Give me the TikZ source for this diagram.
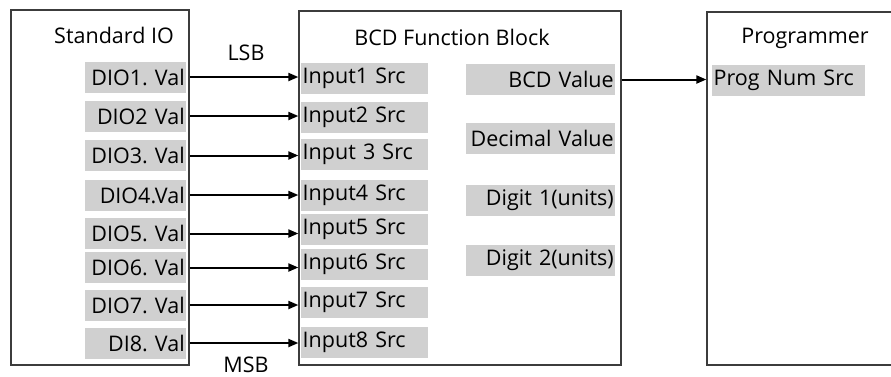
\documentclass[tikz,border=0pt]{standalone}
\usepackage{fontspec}
\setmainfont{Open Sans}
\frenchspacing
\usetikzlibrary{arrows.meta,calc}
\definecolor{gfill}{RGB}{208,208,208}
\definecolor{edge}{RGB}{60,60,60}
\tikzset{
  panel/.style={draw=edge, line width=1.3pt, fill=none, inner sep=0pt},
  gbox/.style={fill=gfill, minimum height=31pt, inner sep=0pt, anchor=west, font=\fontsize{21.5}{24}\selectfont},
  lcol/.style={gbox, text width=98pt, align=right, minimum width=101pt},
  icol/.style={gbox, text width=124pt, align=left, minimum width=127pt},
  rcol/.style={gbox, text width=146pt, align=right, minimum width=149pt},
  ttl/.style={font=\fontsize{21.5}{24}\selectfont, inner sep=0pt},
  arr/.style={line width=2pt, -{Triangle[length=10pt,width=8pt]}}
}
\begin{document}
\begin{tikzpicture}[x=1pt,y=-1pt]
\clip (0,0) rectangle (891,376);
% panels
\node[panel, minimum width=178pt, minimum height=355pt] (sio) at (100,187.5) {};
\node[panel, minimum width=322pt, minimum height=354pt] (bcd) at (460,188) {};
\node[panel, minimum width=194pt, minimum height=353pt] (prg) at (804,188.5) {};
% titles
\node[ttl] (tsio) at (114,35) {Standard IO};
\node[ttl] (tbcd) at (452,37) {BCD Function Block};
\node[ttl] (tprg) at (805,38) {Programmer};
\node[ttl] (lsb) at (246,53) {LSB};
\node[ttl, anchor=base] (msb) at (246,372.5) {MSB};
% left column
\node[lcol] (d1) at (85,77) {DIO1. Val};
\node[lcol] (d2) at (85,116) {DIO2 Val};
\node[lcol] (d3) at (85,155.5) {DIO3. Val};
\node[lcol] (d4) at (85,195) {DIO4.Val};
\node[lcol] (d5) at (85,233.5) {DIO5. Val};
\node[lcol] (d6) at (85,267.5) {DIO6. Val};
\node[lcol] (d7) at (85,305) {DIO7. Val};
\node[lcol] (d8) at (85,343) {DI8. Val};
% input column
\node[icol] (i1) at (301,78) {Input1 Src};
\node[icol] (i2) at (301,117.5) {Input2 Src};
\node[icol] (i3) at (301,154.5) {Input 3 Src};
\node[icol] (i4) at (301,195) {Input4 Src};
\node[icol] (i5) at (301,229) {Input5 Src};
\node[icol] (i6) at (301,264) {Input6 Src};
\node[icol] (i7) at (301,302) {Input7 Src};
\node[icol] (i8) at (301,342) {Input8 Src};
% right column
\node[rcol] (bv) at (466,79.5) {BCD Value};
\node[rcol] (dv) at (466,138) {Decimal Value};
\node[rcol] (g1) at (466,200.5) {Digit 1(units)};
\node[rcol] (g2) at (466,260) {Digit 2(units)};
% programmer
\node[icol, text width=150pt, minimum width=153pt] (pn) at (712,80) {Prog Num Src};
% arrows
\foreach \n in {1,...,8} {
  \draw[arr] (d\n.east -| sio.east) -- (d\n.east -| bcd.west);
}
\draw[arr] (bv.east -| bcd.east) -- (bv.east -| prg.west);
\end{tikzpicture}
\end{document}
